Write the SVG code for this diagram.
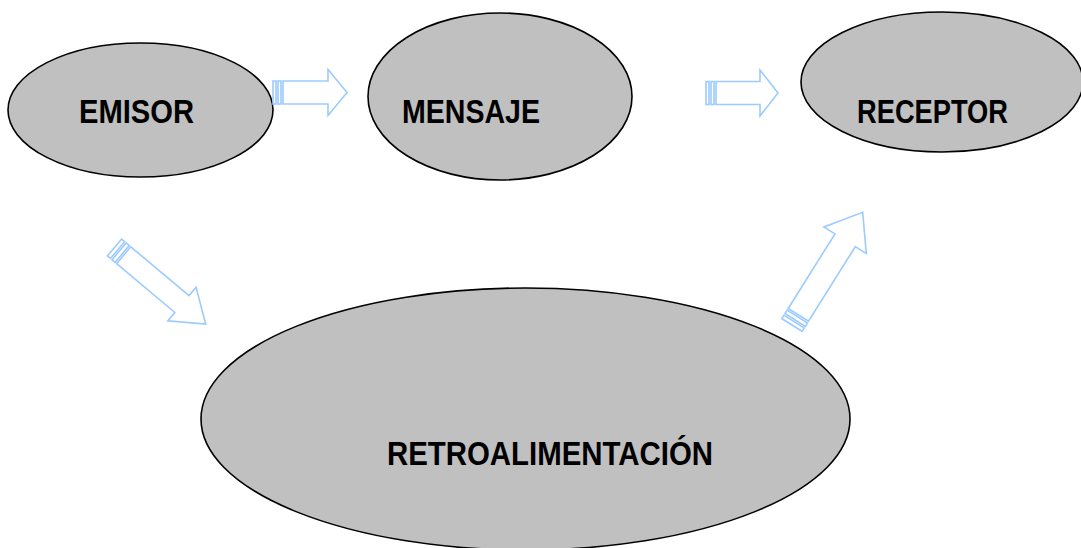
<svg xmlns="http://www.w3.org/2000/svg" width="1081" height="548" viewBox="0 0 1081 548">
<style>
.node{fill:#c0c0c0;stroke:#000;stroke-width:1.6}
.lbl{font-family:"Liberation Sans",Arial,sans-serif;font-weight:bold;font-size:34px;fill:#000}
.arr{fill:#fff;stroke:#9ccbff;stroke-width:1.6;stroke-linejoin:miter}
</style>
<rect width="1081" height="548" fill="#fff"/>
<g id="emisor">
<ellipse class="node" cx="140.5" cy="110" rx="132.5" ry="67"/>
<text class="lbl" x="79" y="123" textLength="115" lengthAdjust="spacingAndGlyphs">EMISOR</text>
</g>
<g id="mensaje">
<ellipse class="node" cx="500" cy="96.5" rx="132" ry="83.5"/>
<text class="lbl" x="402" y="123" textLength="138" lengthAdjust="spacingAndGlyphs">MENSAJE</text>
</g>
<g id="receptor">
<ellipse class="node" cx="942" cy="82" rx="141" ry="70"/>
<text class="lbl" x="857" y="123" textLength="151" lengthAdjust="spacingAndGlyphs">RECEPTOR</text>
</g>
<g id="retroalimentacion">
<ellipse class="node" cx="525.5" cy="419" rx="324.5" ry="131"/>
<text class="lbl" x="387" y="465" textLength="326" lengthAdjust="spacingAndGlyphs">RETROALIMENTACIÓN</text>
</g>
<g id="connectors">
<g transform="translate(273,92.5)">
<rect class="arr" x="0" y="-11.5" width="3" height="23"/>
<rect class="arr" x="5" y="-11.5" width="3" height="23"/>
<polygon class="arr" points="10,-11.5 55,-11.5 55,-23 74,0 55,23 55,11.5 10,11.5"/>
</g>
<g transform="translate(706,93)">
<rect class="arr" x="0" y="-11.5" width="3" height="23"/>
<rect class="arr" x="5" y="-11.5" width="3" height="23"/>
<polygon class="arr" points="10,-11.5 54,-11.5 54,-23 72,0 54,23 54,11.5 10,11.5"/>
</g>
<g transform="translate(114.5,247.5) rotate(40)">
<rect class="arr" x="0" y="-11" width="4" height="22"/>
<rect class="arr" x="6" y="-11" width="4" height="22"/>
<polygon class="arr" points="12,-11 88,-11 88,-22 119,0 88,22 88,11 12,11"/>
</g>
<g transform="translate(792,325) rotate(-57.9)">
<rect class="arr" x="0" y="-12" width="4" height="24"/>
<rect class="arr" x="6" y="-12" width="4" height="24"/>
<polygon class="arr" points="12,-12 100,-12 100,-25 133,0 100,25 100,12 12,12"/>
</g>
</g>
</svg>
